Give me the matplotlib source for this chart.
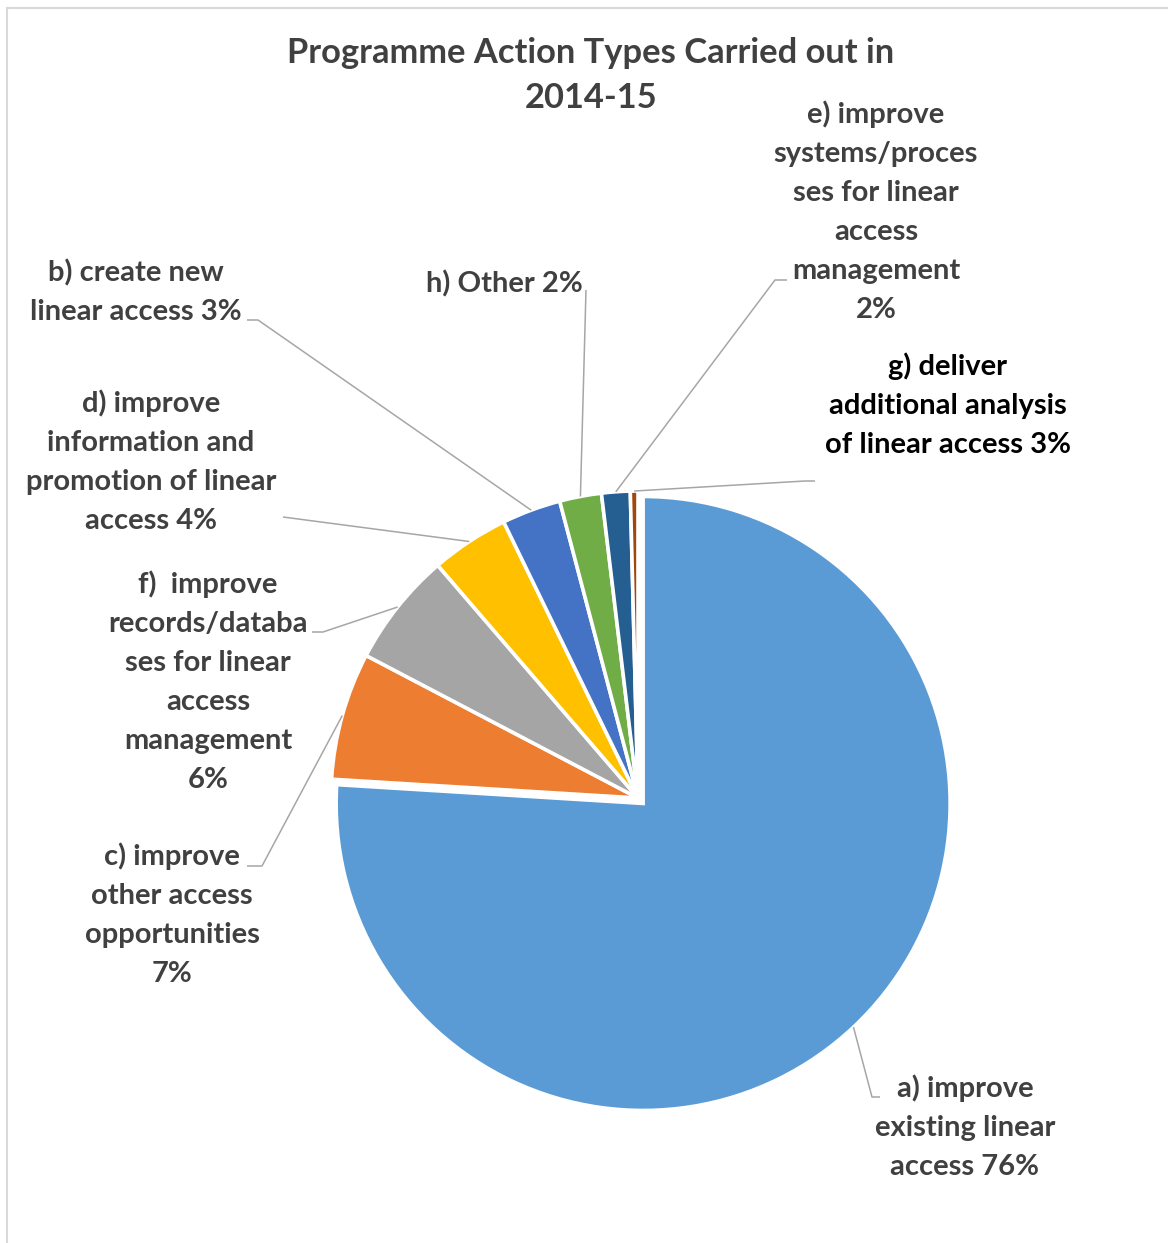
import matplotlib
matplotlib.use("Agg")
import matplotlib.pyplot as plt
import numpy as np
from matplotlib.lines import Line2D

# ---- data ----
categories = ["a) improve existing linear access",
              "c) improve other access opportunities",
              "f)  improve records/databases for linear access management",
              "d) improve information and promotion of linear access",
              "b) create new linear access",
              "h) Other",
              "e) improve systems/processes for linear access management",
              "g) deliver additional analysis of linear access"]
values = [75.9, 6.7, 6.0, 4.1, 3.1, 2.2, 1.5, 0.4]
pct_labels = ["76%", "7%", "6%", "4%", "3%", "2%", "2%", "3%"]
display_labels = ["a) improve\nexisting linear\naccess 76%",
                  "c) improve\nother access\nopportunities\n7%",
                  "f)  improve\nrecords/databa\nses for linear\naccess\nmanagement\n6%",
                  "d) improve\ninformation and\npromotion of linear\naccess 4%",
                  "b) create new\nlinear access 3%",
                  "h) Other 2%",
                  "e) improve\nsystems/proces\nses for linear\naccess\nmanagement\n2%",
                  "g) deliver\nadditional analysis\nof linear access 3%"]
colors = ["#5B9BD5", "#ED7D31", "#A5A5A5", "#FFC000", "#4472C4",
          "#70AD47", "#255E91", "#9E480E"]
title = "Programme Action Types Carried out in\n2014-15"

W, H = 1168, 1243
FONT = "Lato"
fig = plt.figure(figsize=(W / 100, H / 100), dpi=100)
ax = fig.add_axes([0, 0, 1, 1])

def py(y):  # pixel-from-top -> data y
    return H - y

cx, cy, R = 638, py(798), 307
explode = [7.5, 0, 0, 0, 0, 0, 0, 0]   # in data (pixel) units
wedges, _ = ax.pie(values, colors=colors, startangle=90, counterclock=False,
                   center=(cx, cy), radius=R, explode=explode,
                   wedgeprops=dict(edgecolor="white", linewidth=2.6))
ax.set_xlim(0, W)
ax.set_ylim(0, H)
ax.set_aspect("equal")
ax.axis("off")

# frame
fig.add_artist(Line2D([7 / W, 7 / W], [0, 1 - 8 / H], color="#D9D9D9", lw=1.5))
fig.add_artist(Line2D([7 / W, 1], [1 - 8 / H, 1 - 8 / H], color="#D9D9D9", lw=1.5))

ax.text(591, py(75), title, ha="center", va="center", fontsize=24.8,
        fontweight="bold", family=FONT, color="#404040", linespacing=1.5)

# label positions (text centre, pixels from top) and leader elbows
label_pos = [(965, 1127), (172, 915), (208, 682), (151, 462),
             (136, 292), (504, 284), (876, 212), (948, 405)]
elbows = [[(872, 1097), (880, 1097)],
          [(262, 866), (247, 866)],
          [(323, 632), (312, 632)],
          [(283, 517)],
          [(258, 320), (247, 320)],
          [(586, 290)],
          [(775, 280), (787, 280)],
          [(805, 481), (815, 481)]]
text_colors = ["#404040"] * 7 + ["#000000"]

for w, lab, (tx, ty), elb, tc in zip(wedges, display_labels, label_pos, elbows, text_colors):
    ax.text(tx, py(ty), lab, ha="center", va="center", fontsize=21,
            fontweight="bold", family=FONT, color=tc, linespacing=1.62)
    ang = np.deg2rad((w.theta1 + w.theta2) / 2)
    wx = w.center[0] + w.r * np.cos(ang)
    wy = w.center[1] + w.r * np.sin(ang)
    xs = [wx] + [e[0] for e in elb]
    ys = [wy] + [py(e[1]) for e in elb]
    ax.plot(xs, ys, color="#A6A6A6", lw=1.1, solid_capstyle="butt")

fig.savefig("out.png", dpi=100, facecolor="white")
